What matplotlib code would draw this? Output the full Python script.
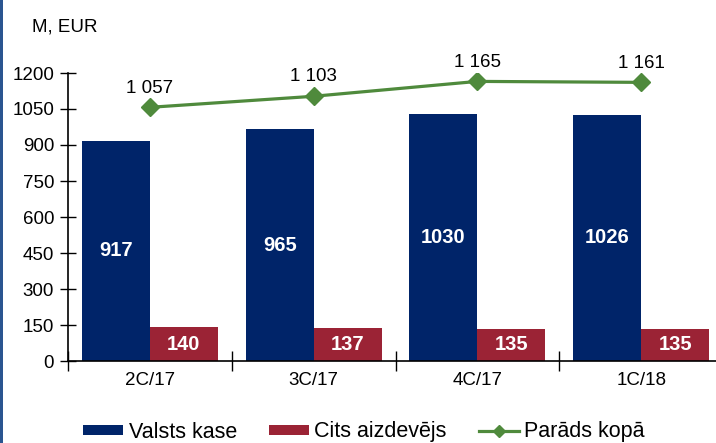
import matplotlib.pyplot as plt
import numpy as np
from matplotlib.lines import Line2D
from matplotlib.patches import Rectangle

plt.rcParams["font.family"] = ["Liberation Sans", "DejaVu Sans"]

categories = ["2C/17", "3C/17", "4C/17", "1C/18"]
treasury = [917, 965, 1030, 1026]
other_lender = [140, 137, 135, 135]
total_debt = [1057, 1103, 1165, 1161]
total_labels = ["1 057", "1 103", "1 165", "1 161"]
yticks = [0, 150, 300, 450, 600, 750, 900, 1050, 1200]

BLUE = "#002469"
RED = "#9b2335"
GREEN = "#4f8a3c"

W, H = 716, 443
fig = plt.figure(figsize=(W / 100, H / 100), dpi=100)
ax = fig.add_axes([68 / W, 1 - 361 / H, 655 / W, (361 - 73) / H])

x = np.arange(len(categories))
bw = 0.415
b1 = ax.bar(x - bw / 2, treasury, bw, color=BLUE, label="Valsts kase")
b2 = ax.bar(x + bw / 2, other_lender, bw, color=RED, label="Cits aizdevējs")
ax.plot(x, total_debt, color=GREEN, lw=2.3, marker="D", ms=9)

for xi, v in zip(x, treasury):
    ax.text(xi - bw / 2, v / 2, str(v), ha="center", va="center",
            color="white", fontsize=14.5, fontweight="bold")
for xi, v in zip(x, other_lender):
    ax.text(xi + bw / 2, v / 2, str(v), ha="center", va="center",
            color="white", fontsize=14.5, fontweight="bold")
for xi, v, lab in zip(x, total_debt, total_labels):
    ax.text(xi, v + 45, lab, ha="center", va="bottom", fontsize=13.5)

ax.set_xlim(-0.5, 3.5)
ax.set_ylim(0, 1200)
ax.set_yticks(yticks)
ax.tick_params(axis="y", direction="inout", length=12, width=1,
               labelsize=13.5, pad=4)
ax.set_xticks(x)
ax.set_xticklabels(categories)
ax.tick_params(axis="x", length=0, labelsize=13.5, pad=8)
ax.set_xticks(np.arange(-0.5, 4.0, 1.0), minor=True)
ax.tick_params(axis="x", which="minor", direction="inout", length=14,
               width=1)
for side in ("top", "right"):
    ax.spines[side].set_visible(False)
ax.spines["left"].set_linewidth(1.2)
ax.spines["bottom"].set_linewidth(1.2)

fig.text(32 / W, 1 - 27 / H, "M, EUR", fontsize=13.5, va="center")

line_handle = Line2D([], [], color=GREEN, lw=2.3, marker="D", ms=6,
                     label="Parāds kopā")
fig.legend(handles=[b1, b2, line_handle], loc="center", ncol=3,
           bbox_to_anchor=(364 / W, 1 - 432 / H), frameon=False,
           fontsize=15.5, handlelength=1.85, handleheight=0.35,
           columnspacing=1.5, handletextpad=0.25)

fig.add_artist(Rectangle((0, 0), 3 / W, 1, transform=fig.transFigure,
                         color="#2a5590", lw=0))

fig.savefig("out.png", dpi=100)
